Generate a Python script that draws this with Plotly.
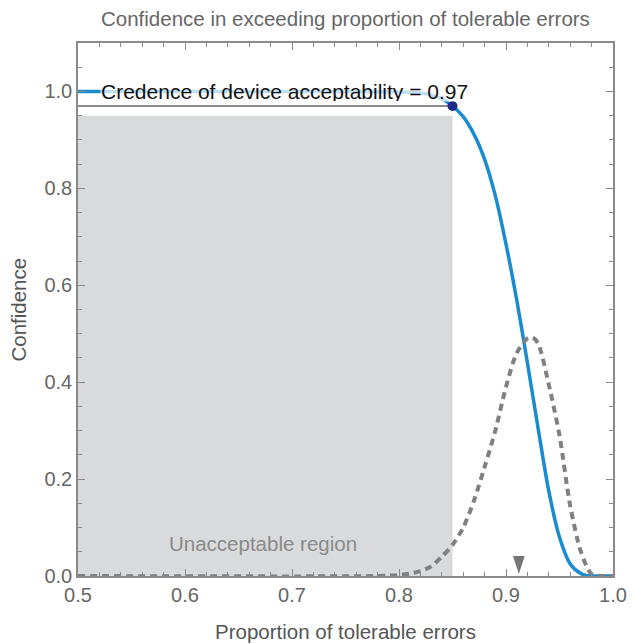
import plotly.graph_objects as go

# Confidence curve (solid blue)
conf_x = [0.50, 0.70, 0.80, 0.82, 0.83, 0.84, 0.85, 0.86, 0.87, 0.88, 0.89, 0.90,
          0.91, 0.92, 0.93, 0.94, 0.95, 0.96, 0.97, 0.975, 0.98, 1.00]
conf_y = [1.000, 1.000, 0.999, 0.997, 0.993, 0.985, 0.970, 0.948, 0.912, 0.860, 0.785, 0.685,
          0.570, 0.440, 0.305, 0.175, 0.080, 0.025, 0.005, 0.001, 0.000, 0.000]

# Density curve (dashed grey)
dens_x = [0.50, 0.78, 0.80, 0.81, 0.82, 0.83, 0.84, 0.85, 0.86, 0.87, 0.88, 0.89,
          0.90, 0.91, 0.92, 0.925, 0.93, 0.94, 0.95, 0.96, 0.97, 0.98, 0.99, 1.00]
dens_y = [0.000, 0.000, 0.002, 0.005, 0.010, 0.020, 0.040, 0.064, 0.100, 0.155, 0.225, 0.300,
          0.390, 0.460, 0.490, 0.492, 0.480, 0.395, 0.290, 0.145, 0.050, 0.004, 0.000, 0.000]

threshold = 0.85
credence = 0.97
region_top = 0.95
marker_x = [0.912]
marker_y = [0.004]

label_text = "Credence of device acceptability = 0.97"
region_text = "Unacceptable region"
title_text = "Confidence in exceeding proportion of tolerable errors"
x_title = "Proportion of tolerable errors"
y_title = "Confidence"

FONT = "Liberation Sans, Arial"

fig = go.Figure()

# unacceptable region
fig.add_shape(type="rect", x0=0.5, x1=threshold, y0=0, y1=region_top,
              fillcolor="#d9dadb", line=dict(width=0), layer="below")

fig.add_trace(go.Scatter(x=conf_x, y=conf_y, mode="lines",
                         line=dict(color="#1b8bd0", width=3.5, shape="spline", smoothing=0.8),
                         showlegend=False))
fig.add_trace(go.Scatter(x=dens_x, y=dens_y, mode="lines",
                         line=dict(color="#808080", width=4, dash="7px,5px",
                                   shape="spline", smoothing=0.8),
                         showlegend=False))
fig.add_trace(go.Scatter(x=[0.5, threshold], y=[credence, credence], mode="lines",
                         line=dict(color="#666666", width=1.3), showlegend=False))
fig.add_trace(go.Scatter(x=[threshold], y=[credence], mode="markers",
                         marker=dict(color="#1f2a86", size=10), showlegend=False))
fig.add_trace(go.Scatter(x=marker_x, y=marker_y, mode="markers",
                         marker=dict(color="#777777", size=19, symbol="arrow", angle=180,
                                     line=dict(width=0)),
                         showlegend=False))

fig.add_annotation(x=0.5206, y=1.0, xref="x", yref="y", text=label_text,
                   showarrow=False, xanchor="left", yanchor="bottom", yshift=-11,
                   height=20, valign="middle",
                   font=dict(family=FONT, size=21, color="#111111"),
                   bgcolor="rgba(255,255,255,0.72)", borderpad=0)
fig.add_annotation(x=0.673, y=0.068, xref="x", yref="y", text=region_text,
                   showarrow=False, xanchor="center", yanchor="middle",
                   font=dict(family=FONT, size=20.5, color="#8a8a8a"))
fig.add_annotation(x=0.5, y=-0.105, xref="paper", yref="paper", text=x_title,
                   showarrow=False, xanchor="center", yanchor="middle",
                   font=dict(family=FONT, size=20.5, color="#555555"))
fig.add_annotation(x=-0.112, y=0.5, xref="paper", yref="paper", text=y_title,
                   showarrow=False, xanchor="center", yanchor="middle", textangle=-90,
                   font=dict(family=FONT, size=20.5, color="#555555"))

axis_common = dict(showline=True, linecolor="#8a8a8a", linewidth=1.5, mirror="ticks",
                   ticks="inside", ticklen=7, tickcolor="#8a8a8a", tickwidth=1.3,
                   showgrid=False, zeroline=False, tickformat=".1f", automargin=False,
                   tickfont=dict(family=FONT, size=20, color="#666666"))

fig.update_xaxes(range=[0.5, 1.0], dtick=0.1, tick0=0.5,
                 minor=dict(dtick=0.02, ticks="inside", ticklen=4, tickcolor="#8a8a8a",
                            showgrid=False),
                 **axis_common)
fig.update_yaxes(range=[0, 1.1], dtick=0.2, tick0=0,
                 minor=dict(dtick=0.05, ticks="inside", ticklen=4, tickcolor="#8a8a8a",
                            showgrid=False),
                 **axis_common)

fig.update_layout(
    width=635, height=644,
    margin=dict(l=78, r=22, t=43, b=68),
    plot_bgcolor="white", paper_bgcolor="white",
    title=dict(text=title_text, x=0.544, xanchor="center", y=0.970, yanchor="middle",
               font=dict(family=FONT, size=20.5, color="#666666")),
)

fig.write_html("out.html")
